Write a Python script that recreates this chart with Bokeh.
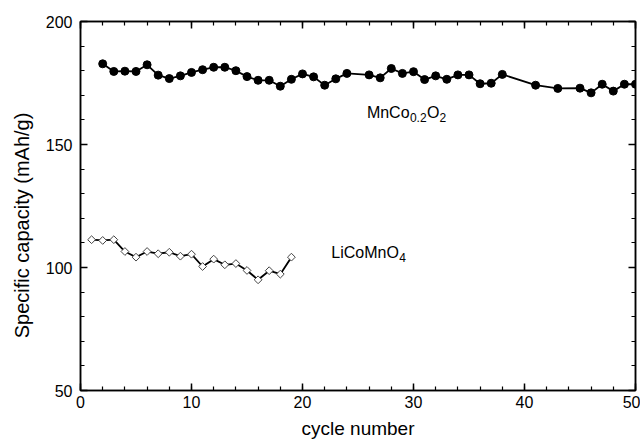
from bokeh.plotting import figure
from bokeh.models import Range1d, SingleIntervalTicker, LinearAxis, Label
from bokeh.embed import file_html
from bokeh.resources import INLINE

# MnCo0.2O2 series
mnco_cycle = [2, 3, 4, 5, 6, 7, 8, 9, 10, 11, 12, 13, 14, 15, 16, 17, 18, 19, 20, 21, 22, 23, 24,
              26, 27, 28, 29, 30, 31, 32, 33, 34, 35, 36, 37, 38, 41, 43, 45, 46, 47, 48, 49, 50]
mnco_cap = [182.8, 179.7, 179.8, 179.7, 182.4, 178.2, 176.8, 177.9, 179.3, 180.4, 181.4, 181.4,
            180.0, 177.6, 176.1, 176.1, 173.7, 176.5, 178.7, 177.5, 174.1, 176.7, 178.9,
            178.3, 177.1, 180.9, 178.9, 179.6, 176.4, 177.9, 176.5, 178.3, 178.3, 174.7, 174.9,
            178.5, 174.1, 172.8, 172.9, 171.0, 174.5, 171.7, 174.5, 174.5]

# LiCoMnO4 series
lico_cycle = [1, 2, 3, 4, 5, 6, 7, 8, 9, 10, 11, 12, 13, 14, 15, 16, 17, 18, 19]
lico_cap = [111.3, 111.0, 111.3, 106.5, 104.2, 106.5, 105.6, 106.2, 104.6, 105.4, 100.4, 103.4,
            101.1, 101.6, 98.8, 95.0, 98.7, 97.3, 104.2]

FONT = "Liberation Sans"

p = figure(width=640, height=448, output_backend="svg", toolbar_location=None,
           x_range=Range1d(0, 50), y_range=Range1d(50, 200),
           x_axis_label="cycle number",
           y_axis_label="Specific capacity (mAh/g)" + "\u00a0" * 7,
           min_border_left=80, min_border_right=5, min_border_top=21, min_border_bottom=58)
p.xgrid.visible = False
p.ygrid.visible = False
p.outline_line_color = "black"
p.outline_line_width = 1.5
p.background_fill_color = "white"
p.border_fill_color = "white"

xt = SingleIntervalTicker(interval=10, num_minor_ticks=5)
yt = SingleIntervalTicker(interval=50, num_minor_ticks=5)
p.xaxis.ticker = xt
p.yaxis.ticker = yt

for ax in [p.xaxis[0], p.yaxis[0]]:
    ax.axis_line_color = "black"
    ax.axis_line_width = 1.5
    ax.major_tick_in = 7
    ax.major_tick_out = 0
    ax.minor_tick_in = 4
    ax.minor_tick_out = 0
    ax.major_tick_line_width = 1.5
    ax.minor_tick_line_width = 1.2
    ax.major_tick_line_color = "black"
    ax.minor_tick_line_color = "black"
    ax.major_label_text_font = FONT
    ax.major_label_text_font_size = "16px"
    ax.major_label_text_color = "black"
    ax.axis_label_text_font = FONT
    ax.axis_label_text_font_style = "normal"
    ax.axis_label_text_color = "black"
p.xaxis.axis_label_text_font_size = "19px"
p.yaxis.axis_label_text_font_size = "20px"
p.xaxis.major_label_standoff = 5
p.yaxis.major_label_standoff = 8
p.xaxis.axis_label_standoff = 7
p.yaxis.axis_label_standoff = 10

for loc, tk in [("right", yt), ("above", xt)]:
    ax = LinearAxis(ticker=SingleIntervalTicker(interval=tk.interval, num_minor_ticks=5))
    ax.axis_line_color = "black"
    ax.axis_line_width = 1.5
    ax.major_tick_in = 7
    ax.major_tick_out = 0
    ax.minor_tick_in = 4
    ax.minor_tick_out = 0
    ax.major_tick_line_width = 1.5
    ax.minor_tick_line_width = 1.2
    ax.major_label_text_font_size = "0px"
    ax.major_label_text_color = None
    ax.major_label_standoff = 0
    p.add_layout(ax, loc)

p.line(mnco_cycle, mnco_cap, line_color="black", line_width=1.8)
p.scatter(mnco_cycle, mnco_cap, marker="circle", size=8, fill_color="black", line_color="black")

p.line(lico_cycle, lico_cap, line_color="black", line_width=1.8)
p.scatter(lico_cycle, lico_cap, marker="square", angle=0.785398, size=5.5,
          fill_color="white", line_color="#444444", line_width=1)

def lab(x, y, text, size, xo=0, yo=0):
    p.add_layout(Label(x=x, y=y, text=text, x_offset=xo, y_offset=yo,
                       text_font=FONT, text_font_size=size, text_color="black",
                       text_align="left", text_baseline="alphabetic"))

# MnCo0.2O2 label
lab(25.8, 163.0, "MnCo", "16px")
lab(25.8, 163.0, "0.2", "12px", xo=43, yo=-5)
lab(25.8, 163.0, "O", "16px", xo=60, yo=0)
lab(25.8, 163.0, "2", "12px", xo=72.5, yo=-5)

# LiCoMnO4 label
lab(22.6, 106.0, "LiCoMnO", "16px")
lab(22.6, 106.0, "4", "12px", xo=67.8, yo=-5)

open("out.html", "w").write(file_html(p, INLINE))
